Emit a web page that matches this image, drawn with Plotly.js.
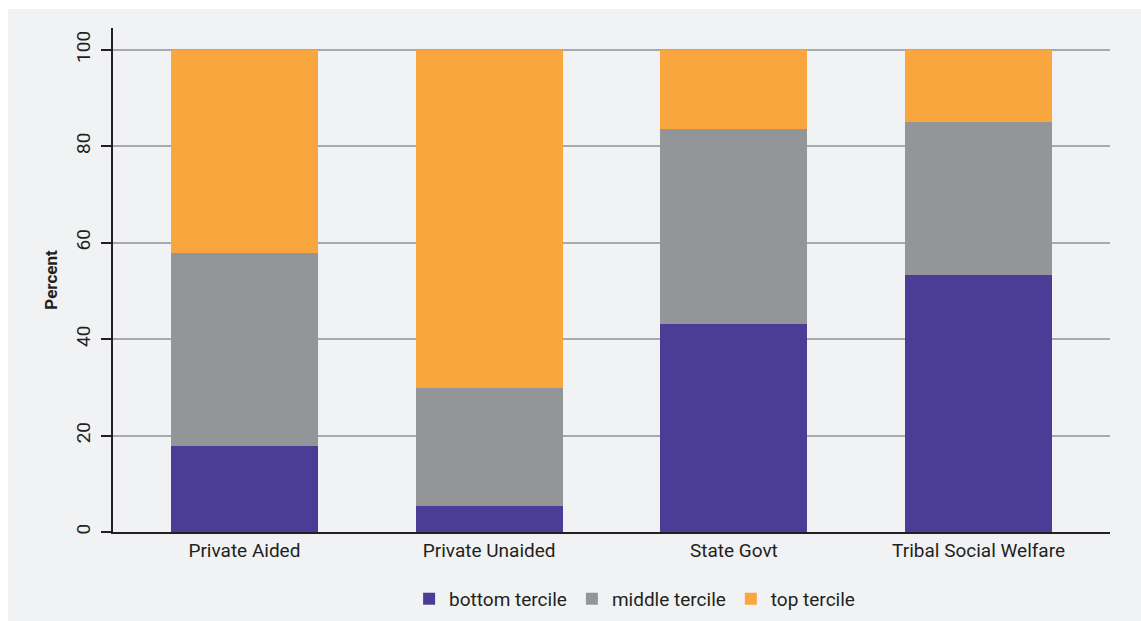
<!DOCTYPE html>
<html>
<head>
<meta charset="utf-8">
<script src="https://cdn.plot.ly/plotly-3.0.1.min.js"></script>
<style>
html,body{margin:0;padding:0;background:#ffffff;}
#chart{position:absolute;left:8px;top:9px;width:1133px;height:612px;}
</style>
</head>
<body>
<div id="chart"></div>
<script>
const categories = ["Private Aided", "Private Unaided", "State Govt", "Tribal Social Welfare"];
const bottomTercile = [17.8, 5.4, 43.1, 53.3];
const middleTercile = [40.1, 24.4, 40.5, 31.7];
const topTercile = [42.1, 70.2, 16.4, 15.0];
const seriesNames = ["bottom tercile", "middle tercile", "top tercile"];
const yTicks = [0, 20, 40, 60, 80, 100];

const font = "'Liberation Sans Narrow', 'Roboto', 'Liberation Sans', sans-serif";
const colors = ["#4b3c96", "#939598", "#f9a63f"];
const series = [bottomTercile, middleTercile, topTercile];

const data = series.map((vals, i) => ({
  type: "bar",
  name: seriesNames[i],
  x: categories,
  y: vals,
  marker: {color: colors[i], line: {width: 0}},
  hoverinfo: "x+y+name"
}));

const layout = {
  barmode: "stack",
  bargap: 0.4,
  paper_bgcolor: "#f1f2f4",
  plot_bgcolor: "#f1f2f4",
  margin: {l: 105, r: 31, t: 19, b: 89, autoexpand: false},
  font: {family: font, color: "#231f20", size: 19},
  xaxis: {
    range: [-0.537, 3.537],
    showgrid: false,
    showline: true,
    linecolor: "#231f20",
    linewidth: 1.5,
    ticks: "",
    tickfont: {family: font, size: 19, color: "#231f20"},
    zeroline: false
  },
  yaxis: {
    range: [0, 104.5],
    tickvals: yTicks,
    ticktext: yTicks.map(String),
    tickangle: -90,
    ticks: "outside",
    ticklen: 10,
    tickwidth: 1.5,
    tickcolor: "#231f20",
    ticklabelstandoff: 4,
    showline: true,
    linecolor: "#231f20",
    linewidth: 1.5,
    showgrid: true,
    gridcolor: "#a7a9ac",
    gridwidth: 1.5,
    zeroline: false,
    tickfont: {family: font, size: 19, color: "#231f20"},
    title: {text: "<b>Percent</b>", font: {family: font, size: 17, color: "#231f20"}, standoff: 10}
  },
  legend: {
    orientation: "h",
    x: 0.297,
    xanchor: "left",
    y: -0.095,
    yanchor: "top",
    bgcolor: "rgba(0,0,0,0)",
    font: {family: font, size: 19, color: "#231f20"},
    itemwidth: 30,
    traceorder: "normal"
  },
  showlegend: true
};

Plotly.newPlot("chart", data, layout, {displayModeBar: false, responsive: false});
</script>
</body>
</html>
